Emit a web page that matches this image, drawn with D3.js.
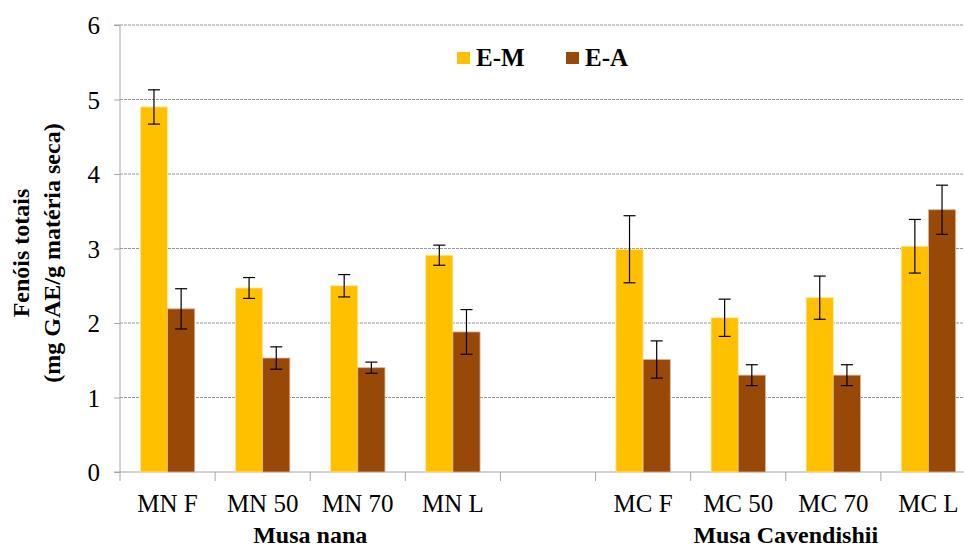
<!DOCTYPE html>
<html>
<head>
<meta charset="utf-8">
<script src="https://cdn.jsdelivr.net/npm/d3@7"></script>
<style>
  body { margin: 0; background: #fff; }
</style>
</head>
<body>
<div class="chart"></div>
<script>
const categories = ["MN F", "MN 50", "MN 70", "MN L", "", "MC F", "MC 50", "MC 70", "MC L"];
const series = ["E-M", "E-A"];
const emValues = [4.90, 2.47, 2.50, 2.91, null, 2.99, 2.07, 2.34, 3.03];
const emErrors = [0.23, 0.14, 0.15, 0.135, null, 0.45, 0.25, 0.29, 0.36];
const eaValues = [2.19, 1.53, 1.40, 1.88, null, 1.51, 1.30, 1.30, 3.52];
const eaErrors = [0.27, 0.15, 0.075, 0.30, null, 0.25, 0.14, 0.14, 0.33];
const groups = [{name: "Musa nana", from: "MN 50", to: "MN 70"}, {name: "Musa Cavendishii", from: "MC 50", to: "MC 70"}];
const yTicks = [0, 1, 2, 3, 4, 5, 6];

const colors = {"E-M": "#FFC000", "E-A": "#984807"};
const FONT = "'Liberation Serif', 'Times New Roman', 'DejaVu Serif', serif";

var width = 964, height = 549;
var margin = {top: 25, right: -12, bottom: 77, left: 120};

const svg = d3.select(".chart").append("svg")
    .attr("width", width)
    .attr("height", height)
    .style("font-family", FONT);

const xScale = d3.scaleBand()
    .domain(categories.map((d, i) => i))
    .range([margin.left, width - margin.right])
    .paddingInner(0).paddingOuter(0);

const x1 = d3.scaleBand()
    .domain(series)
    .range([0, xScale.bandwidth()])
    .paddingInner(0)
    .paddingOuter(0.75);

const yScale = d3.scaleLinear()
    .domain([0, 6])
    .range([height - margin.bottom, margin.top]);

// gridlines
svg.append("g")
    .selectAll("line")
    .data(yTicks.filter(d => d > 0))
    .enter().append("line")
    .attr("x1", margin.left)
    .attr("x2", width)
    .attr("y1", d => yScale(d))
    .attr("y2", d => yScale(d))
    .attr("stroke", "#999")
    .attr("stroke-width", 1)
    .attr("stroke-dasharray", "3,1");

// y axis
const yAxis = d3.axisLeft(yScale)
    .tickValues(yTicks)
    .tickSize(6)
    .tickPadding(14)
    .tickFormat(d3.format("d"));

svg.append("g")
    .attr("class", "axis y-axis")
    .attr("transform", `translate(${margin.left},0)`)
    .call(yAxis)
    .attr("font-family", null)
    .call(g => g.select(".domain").attr("stroke", "#a6a6a6").attr("d", `M-6,${yScale(6)}H0V${yScale(0)}`))
    .call(g => g.selectAll(".tick line").attr("stroke", "#a6a6a6"))
    .call(g => g.selectAll(".tick text").style("font-size", "25px").style("font-family", FONT)
        .attr("fill", "#000").attr("dy", "0.34em"));

// x axis line + tick marks at band edges
const xBase = yScale(0);
svg.append("line")
    .attr("x1", margin.left - 6).attr("x2", width)
    .attr("y1", xBase).attr("y2", xBase)
    .attr("stroke", "#a6a6a6");

const edges = categories.map((d, i) => xScale(i)).concat([xScale(categories.length - 1) + xScale.bandwidth()]);
svg.append("g")
    .selectAll("line")
    .data(edges)
    .enter().append("line")
    .attr("x1", d => d).attr("x2", d => d)
    .attr("y1", xBase).attr("y2", xBase + 9)
    .attr("stroke", "#a6a6a6");

svg.append("g")
    .selectAll("text")
    .data(categories)
    .enter().append("text")
    .attr("x", (d, i) => xScale(i) + xScale.bandwidth() / 2)
    .attr("y", 512)
    .attr("text-anchor", "middle")
    .style("font-family", FONT)
    .style("font-size", "25px")
    .text(d => d);

// group labels
svg.append("g")
    .selectAll("text")
    .data(groups)
    .enter().append("text")
    .attr("x", d => (xScale(categories.indexOf(d.from)) + xScale(categories.indexOf(d.to)) + xScale.bandwidth()) / 2)
    .attr("y", 543)
    .attr("text-anchor", "middle")
    .style("font-family", FONT)
    .style("font-size", "24px")
    .style("font-weight", "bold")
    .text(d => d.name);

// bars
const rows = [];
categories.forEach((c, i) => {
    if (emValues[i] != null) rows.push({i: i, s: "E-M", v: emValues[i], e: emErrors[i]});
    if (eaValues[i] != null) rows.push({i: i, s: "E-A", v: eaValues[i], e: eaErrors[i]});
});

svg.append("g")
    .selectAll("rect")
    .data(rows)
    .enter().append("rect")
    .attr("x", d => xScale(d.i) + x1(d.s))
    .attr("width", x1.bandwidth())
    .attr("y", d => yScale(d.v))
    .attr("height", d => yScale(0) - yScale(d.v))
    .attr("fill", d => colors[d.s])
    .attr("stroke", d => d.s === "E-M" ? "#ffe7a0" : "#d9b59a")
    .attr("stroke-width", 0.8);

// error bars
const err = svg.append("g").attr("stroke", "#000").attr("stroke-width", 1.2);
rows.forEach(d => {
    const cx = xScale(d.i) + x1(d.s) + x1.bandwidth() / 2;
    const top = yScale(d.v + d.e), bot = yScale(d.v - d.e);
    err.append("line").attr("x1", cx).attr("x2", cx).attr("y1", top).attr("y2", bot);
    err.append("line").attr("x1", cx - 6).attr("x2", cx + 6).attr("y1", top).attr("y2", top);
    err.append("line").attr("x1", cx - 6).attr("x2", cx + 6).attr("y1", bot).attr("y2", bot);
});

// legend
const legendX = [457, 566];
const legend = svg.append("g")
    .selectAll("g")
    .data(series)
    .enter().append("g")
    .attr("transform", (d, i) => `translate(${legendX[i]},52)`);
legend.append("rect")
    .attr("x", 0).attr("y", 0)
    .attr("width", 13).attr("height", 12)
    .attr("fill", d => colors[d]);
legend.append("text")
    .attr("x", 19).attr("y", 14)
    .style("font-family", FONT)
    .style("font-size", "25px")
    .style("font-weight", "bold")
    .text(d => d);

// y label
const yl = svg.append("text")
    .attr("transform", "translate(0,253) rotate(-90)")
    .attr("text-anchor", "middle")
    .style("font-family", FONT)
    .style("font-size", "24px")
    .style("font-weight", "bold");
yl.append("tspan").attr("x", 0).attr("y", 29).text("Fenóis totais");
yl.append("tspan").attr("x", 0).attr("y", 60).text("(mg GAE/g matéria seca)");
</script>
</body>
</html>
